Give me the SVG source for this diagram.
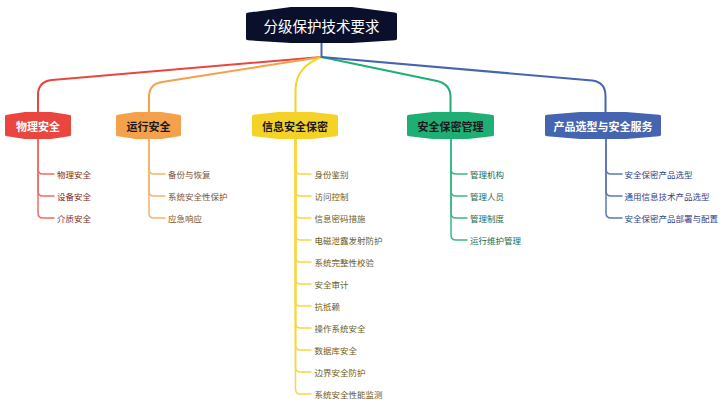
<svg xmlns="http://www.w3.org/2000/svg" width="726" height="409" viewBox="0 0 726 409">
<style>
text{font-family:"Noto Sans CJK SC","Noto Sans",sans-serif;dominant-baseline:central}
.root-t{font-size:14.5px;fill:#ffffff;text-anchor:middle}
.br-t{font-size:11px;font-weight:bold;text-anchor:middle}
.ch{font-size:8.5px}
.conn{fill:none;stroke-width:2;stroke-linecap:round;stroke-linejoin:round}
.sub{fill:none;stroke-width:1.5;stroke-linecap:round;stroke-linejoin:round}
.red{stroke:#e8463e}.org{stroke:#f5a04b}.yel{stroke:#f4d228}.grn{stroke:#1fae73}.blu{stroke:#4565b0}
.red-l{stroke:#ef6c65}.org-l{stroke:#f7b26b}.yel-l{stroke:#f6d841}.grn-l{stroke:#3bb886}.blu-l{stroke:#5b77bb}
.red-c{fill:#7a2c2c}.org-c{fill:#7a5430}.yel-c{fill:#6b6028}.grn-c{fill:#1e6b4c}.blu-c{fill:#2f4286}
</style>
<rect width="726" height="409" fill="#ffffff"/>
<g id="connectors">
<path class="conn blu" d="M321.5,43 V57"/>
<path class="conn red" d="M321.5,57 L52,80 Q38,81.5 38,95 V112"/>
<path class="conn org" d="M321.5,57 L162,82 Q149,84 149,97 V112"/>
<path class="conn yel" d="M321.5,57 C304,64 295.5,74 295.5,90 V112"/>
<path class="conn grn" d="M321.5,57 L437,81 Q450.5,84 450.5,97 V112"/>
<path class="conn blu" d="M321.5,57 L592,80.5 Q605.5,82 605.5,96 V112"/>
<g class="sub red-l">
<path d="M38,139 V169 Q38,174 43,174 H54"/>
<path d="M38,139 V191 Q38,196 43,196 H54"/>
<path d="M38,139 V213 Q38,218 43,218 H54"/>
</g>
<g class="sub org-l">
<path d="M149,139 V169 Q149,174 154,174 H165"/>
<path d="M149,139 V191 Q149,196 154,196 H165"/>
<path d="M149,139 V213 Q149,218 154,218 H165"/>
</g>
<g class="sub yel-l">
<path d="M295.5,139 V169 Q295.5,174 300.5,174 H311"/>
<path d="M295.5,139 V191 Q295.5,196 300.5,196 H311"/>
<path d="M295.5,139 V213 Q295.5,218 300.5,218 H311"/>
<path d="M295.5,139 V235 Q295.5,240 300.5,240 H311"/>
<path d="M295.5,139 V257 Q295.5,262 300.5,262 H311"/>
<path d="M295.5,139 V279 Q295.5,284 300.5,284 H311"/>
<path d="M295.5,139 V301 Q295.5,306 300.5,306 H311"/>
<path d="M295.5,139 V323 Q295.5,328 300.5,328 H311"/>
<path d="M295.5,139 V345 Q295.5,350 300.5,350 H311"/>
<path d="M295.5,139 V367 Q295.5,372 300.5,372 H311"/>
<path d="M295.5,139 V389 Q295.5,394 300.5,394 H311"/>
</g>
<g class="sub grn-l">
<path d="M451,139 V169 Q451,174 456,174 H467"/>
<path d="M451,139 V191 Q451,196 456,196 H467"/>
<path d="M451,139 V213 Q451,218 456,218 H467"/>
<path d="M451,139 V235 Q451,240 456,240 H467"/>
</g>
<g class="sub blu-l">
<path d="M606,139 V169 Q606,174 611,174 H622"/>
<path d="M606,139 V191 Q606,196 611,196 H622"/>
<path d="M606,139 V213 Q606,218 611,218 H622"/>
</g>
</g>
<g id="root">
<path fill="#0a0f2c" d="M246,14 Q246,13 248.5,12.6 L291,7 L352,7 L394.5,12.6 Q397,13 397,14 V39 Q397,40 395,40.3 L352,43 L291,43 L248,40.3 Q246,40 246,39 Z"/>
<text class="root-t" x="321.5" y="25">分级保护技术要求</text>
</g>
<g id="n1">
<path fill="#e8463e" d="M5,116 Q5,115 7,114.7 L25,112 L51,112 L69,114.7 Q71,115 71,116 V135 Q71,136 69,136.3 L51,139 L25,139 L7,136.3 Q5,136 5,135 Z"/>
<text class="br-t" x="38" y="125.5" fill="#ffffff">物理安全</text>
<text class="ch red-c" x="57" y="174">物理安全</text>
<text class="ch red-c" x="57" y="196">设备安全</text>
<text class="ch red-c" x="57" y="218">介质安全</text>
</g>
<g id="n2">
<path fill="#f5a04b" d="M116,116 Q116,115 118,114.7 L135.5,112 L161.5,112 L179,114.7 Q181,115 181,116 V135 Q181,136 179,136.3 L161.5,139 L135.5,139 L118,136.3 Q116,136 116,135 Z"/>
<text class="br-t" x="148.5" y="125.5" fill="#1a1a1a">运行安全</text>
<text class="ch org-c" x="168" y="174">备份与恢复</text>
<text class="ch org-c" x="168" y="196">系统安全性保护</text>
<text class="ch org-c" x="168" y="218">应急响应</text>
</g>
<g id="n3">
<path fill="#f4d228" d="M252,116 Q252,115 254,114.7 L278,112 L312,112 L336,114.7 Q338,115 338,116 V135 Q338,136 336,136.3 L312,139 L278,139 L254,136.3 Q252,136 252,135 Z"/>
<text class="br-t" x="295" y="125.5" fill="#1a1a1a">信息安全保密</text>
<text class="ch yel-c" x="314.5" y="174">身份鉴别</text>
<text class="ch yel-c" x="314.5" y="196">访问控制</text>
<text class="ch yel-c" x="314.5" y="218">信息密码措施</text>
<text class="ch yel-c" x="314.5" y="240">电磁泄露发射防护</text>
<text class="ch yel-c" x="314.5" y="262">系统完整性校验</text>
<text class="ch yel-c" x="314.5" y="284">安全审计</text>
<text class="ch yel-c" x="314.5" y="306">抗抵赖</text>
<text class="ch yel-c" x="314.5" y="328">操作系统安全</text>
<text class="ch yel-c" x="314.5" y="350">数据库安全</text>
<text class="ch yel-c" x="314.5" y="372">边界安全防护</text>
<text class="ch yel-c" x="314.5" y="394">系统安全性能监测</text>
</g>
<g id="n4">
<path fill="#1fae73" d="M407,116 Q407,115 409,114.7 L433,112 L468,112 L492,114.7 Q494,115 494,116 V135 Q494,136 492,136.3 L468,139 L433,139 L409,136.3 Q407,136 407,135 Z"/>
<text class="br-t" x="450.5" y="125.5" fill="#1a1a1a">安全保密管理</text>
<text class="ch grn-c" x="470" y="174">管理机构</text>
<text class="ch grn-c" x="470" y="196">管理人员</text>
<text class="ch grn-c" x="470" y="218">管理制度</text>
<text class="ch grn-c" x="470" y="240">运行维护管理</text>
</g>
<g id="n5">
<path fill="#4565b0" d="M545,116 Q545,115 547,114.7 L580,112 L626,112 L659,114.7 Q661,115 661,116 V135 Q661,136 659,136.3 L626,139 L580,139 L547,136.3 Q545,136 545,135 Z"/>
<text class="br-t" x="603" y="125.5" fill="#ffffff">产品选型与安全服务</text>
<text class="ch blu-c" x="624.5" y="174">安全保密产品选型</text>
<text class="ch blu-c" x="624.5" y="196">通用信息技术产品选型</text>
<text class="ch blu-c" x="624.5" y="218">安全保密产品部署与配置</text>
</g>
</svg>
